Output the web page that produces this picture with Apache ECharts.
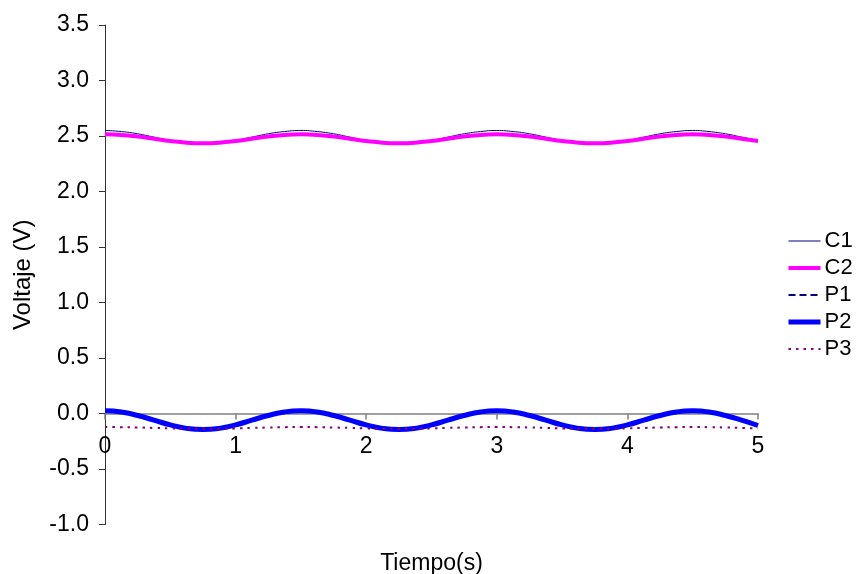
<!DOCTYPE html>
<html>
<head>
<meta charset="utf-8">
<script src="https://cdn.jsdelivr.net/npm/echarts@6/dist/echarts.min.js"></script>
<style>
  html, body { margin: 0; padding: 0; background: #fff; }
  #chart { width: 859px; height: 574px; }
</style>
</head>
<body>
<div id="chart"></div>
<script>
// Sample times (s), every 0.125 s from 0 to 5
const tiempo = [
  0, 0.125, 0.25, 0.375, 0.5, 0.625, 0.75, 0.875, 1, 1.125, 1.25, 1.375,
  1.5, 1.625, 1.75, 1.875, 2, 2.125, 2.25, 2.375, 2.5, 2.625, 2.75, 2.875,
  3, 3.125, 3.25, 3.375, 3.5, 3.625, 3.75, 3.875, 4, 4.125, 4.25, 4.375,
  4.5, 4.625, 4.75, 4.875, 5
];

// Voltages (V)
const c1 = [
  2.55, 2.54, 2.52, 2.49, 2.46, 2.44, 2.43, 2.44, 2.46, 2.49, 2.52, 2.54,
  2.55, 2.54, 2.52, 2.49, 2.46, 2.44, 2.43, 2.44, 2.46, 2.49, 2.52, 2.54,
  2.55, 2.54, 2.52, 2.49, 2.46, 2.44, 2.43, 2.44, 2.46, 2.49, 2.52, 2.54,
  2.55, 2.54, 2.52, 2.49, 2.46
];
const c2 = [
  2.515, 2.51, 2.495, 2.475, 2.455, 2.44, 2.435, 2.44, 2.455, 2.475, 2.495, 2.51,
  2.515, 2.51, 2.495, 2.475, 2.455, 2.44, 2.435, 2.44, 2.455, 2.475, 2.495, 2.51,
  2.515, 2.51, 2.495, 2.475, 2.455, 2.44, 2.435, 2.44, 2.455, 2.475, 2.495, 2.51,
  2.515, 2.51, 2.495, 2.475, 2.455
];
const p1 = [
  0.028, 0.016, -0.016, -0.058, -0.101, -0.132, -0.143, -0.132, -0.101, -0.058, -0.016, 0.016,
  0.028, 0.016, -0.016, -0.058, -0.101, -0.132, -0.143, -0.132, -0.101, -0.058, -0.016, 0.016,
  0.028, 0.016, -0.016, -0.058, -0.101, -0.132, -0.143, -0.132, -0.101, -0.058, -0.016, 0.016,
  0.028, 0.016, -0.016, -0.058, -0.105
];
const p2 = [
  0.025, 0.014, -0.018, -0.06, -0.103, -0.134, -0.145, -0.134, -0.103, -0.06, -0.018, 0.014,
  0.025, 0.014, -0.018, -0.06, -0.103, -0.134, -0.145, -0.134, -0.103, -0.06, -0.018, 0.014,
  0.025, 0.014, -0.018, -0.06, -0.103, -0.134, -0.145, -0.134, -0.103, -0.06, -0.018, 0.014,
  0.025, 0.014, -0.018, -0.06, -0.108
];
const p3 = [
  -0.122, -0.123, -0.126, -0.13, -0.134, -0.137, -0.138, -0.137, -0.134, -0.13, -0.126, -0.123,
  -0.122, -0.123, -0.126, -0.13, -0.134, -0.137, -0.138, -0.137, -0.134, -0.13, -0.126, -0.123,
  -0.122, -0.123, -0.126, -0.13, -0.134, -0.137, -0.138, -0.137, -0.134, -0.13, -0.126, -0.123,
  -0.122, -0.123, -0.126, -0.13, -0.134
];

const seriesNames = ['C1', 'C2', 'P1', 'P2', 'P3'];
const seriesValues = [c1, c2, p1, p2, p3];
const seriesStyles = [
  { color: '#000080', width: 1, type: 'solid' },
  { color: '#FF00FF', width: 4, type: 'solid' },
  { color: '#000080', width: 2, type: [7, 4] },
  { color: '#0000FF', width: 5, type: 'solid' },
  { color: '#800080', width: 2, type: [2.5, 5] }
];

const FONT = '"Liberation Sans", Arial, sans-serif';
const FS = 23;

// Value-axis range shared by the y axis and the x-axis placement
const yMin = -1, yMax = 3.5, yStep = 0.5;
const gridTop = 25, gridBottom = 49.5;
const chartH = 574;
// The time axis sits on the V = 0 line: shift it up from the grid bottom
const plotH = chartH - gridTop - gridBottom;
const zeroShift = plotH * (0 - yMin) / (yMax - yMin);

const chart = echarts.init(document.getElementById('chart'), null, { renderer: 'canvas' });

chart.setOption({
  backgroundColor: '#ffffff',
  animation: false,
  textStyle: { fontFamily: FONT, color: '#000' },
  grid: {
    left: 105, right: 101, top: gridTop, bottom: gridBottom,
    containLabel: false,
    outerBoundsMode: 'none'
  },
  legend: {
    orient: 'vertical',
    left: 786,
    top: 230,
    padding: 0,
    itemWidth: 32,
    itemHeight: 14,
    itemGap: 5,
    itemStyle: { opacity: 0 },
    textStyle: { fontFamily: FONT, fontSize: 22, color: '#000', padding: [0, 0, 0, -1] },
    data: seriesNames.map((name, i) => ({
      name: name,
      lineStyle: {
        width: seriesStyles[i].width,
        type: seriesStyles[i].type,
        color: seriesStyles[i].color
      }
    }))
  },
  xAxis: {
    type: 'value',
    min: 0,
    max: 5,
    interval: 1,
    offset: -zeroShift,
    name: 'Tiempo(s)',
    nameLocation: 'middle',
    nameGap: 28 + zeroShift,
    nameTextStyle: { fontFamily: FONT, fontSize: FS, color: '#000' },
    axisLine: { onZero: false, lineStyle: { color: '#808080', width: 1.5 } },
    axisTick: { show: true, inside: false, length: 6, lineStyle: { color: '#808080', width: 1.5 } },
    axisLabel: { margin: 22, fontFamily: FONT, fontSize: FS, color: '#000' },
    splitLine: { show: false }
  },
  yAxis: {
    type: 'value',
    min: yMin,
    max: yMax,
    interval: yStep,
    name: 'Voltaje (V)',
    nameLocation: 'middle',
    nameGap: 70,
    nameTextStyle: { fontFamily: FONT, fontSize: 24, color: '#000' },
    axisLine: { show: true, lineStyle: { color: '#333', width: 1 } },
    axisTick: { show: true, inside: false, length: 6, lineStyle: { color: '#333', width: 1 } },
    axisLabel: {
      margin: 16,
      fontFamily: FONT,
      fontSize: FS,
      color: '#000',
      formatter: v => v.toFixed(1)
    },
    splitLine: { show: false }
  },
  series: seriesNames.map((name, i) => ({
    name: name,
    type: 'line',
    smooth: true,
    symbol: 'none',
    data: tiempo.map((t, k) => [t, seriesValues[i][k]]),
    lineStyle: seriesStyles[i],
    itemStyle: { color: seriesStyles[i].color },
    z: 2 + i
  }))
});
</script>
</body>
</html>
